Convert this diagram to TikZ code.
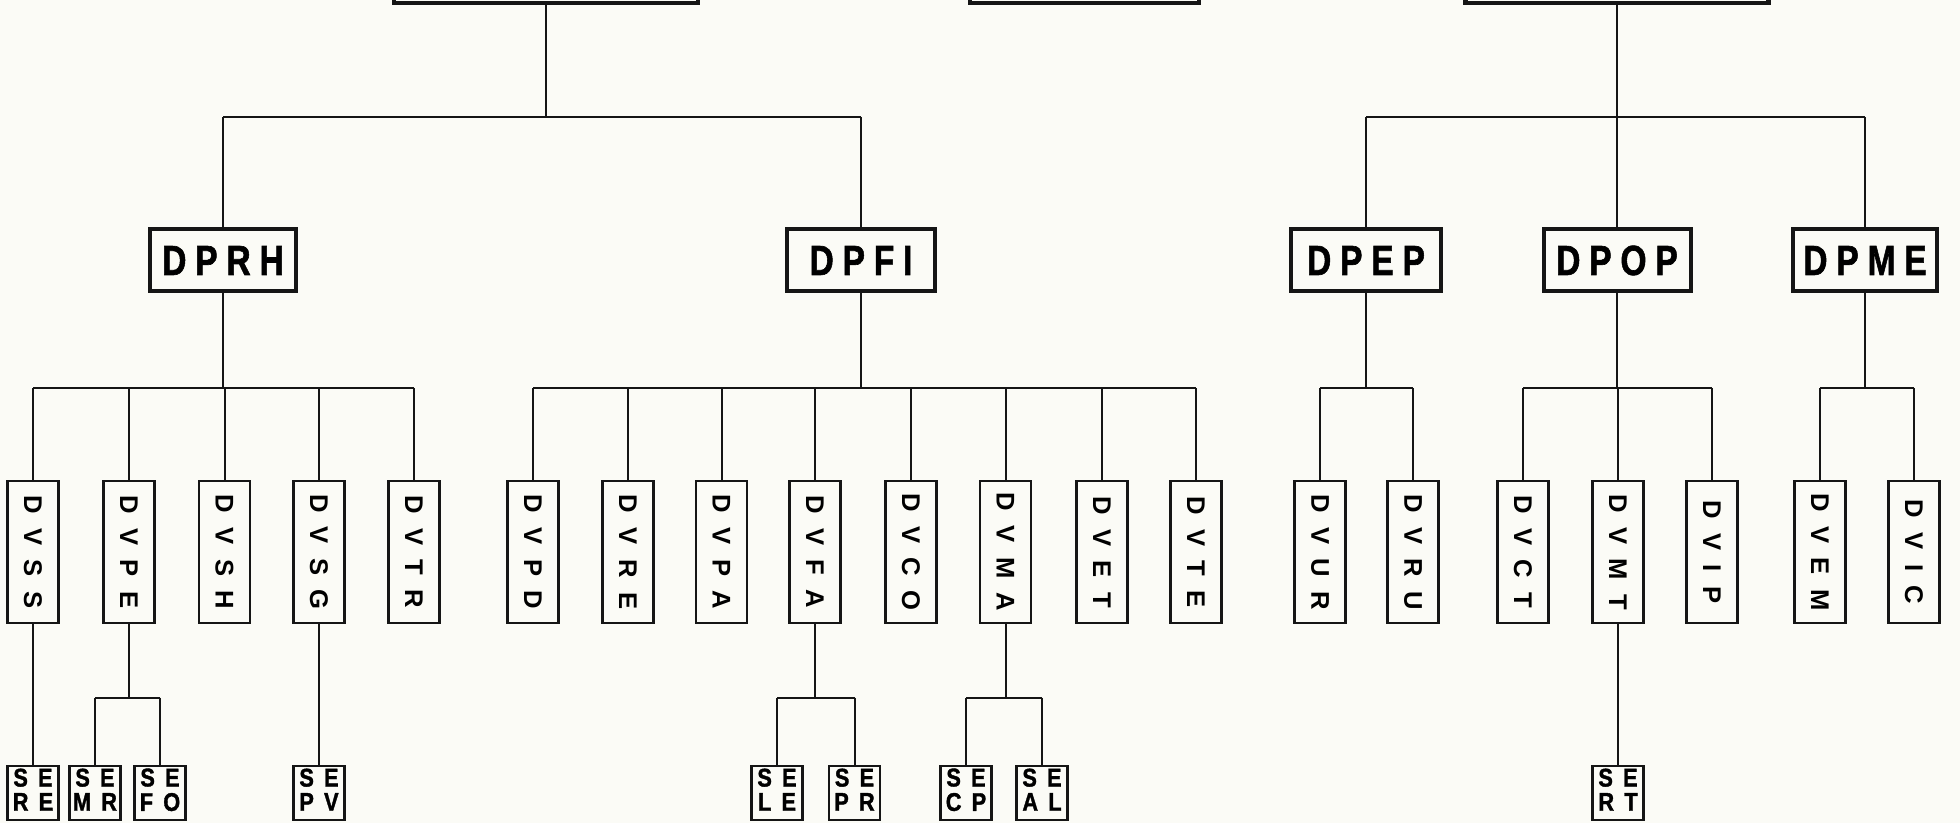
\documentclass[tikz,border=0pt]{standalone}
\usepackage{fontspec}
\setmainfont{Liberation Sans}
\newfontfamily\dvf{Liberation Sans Bold}
\newfontfamily\dpf[FakeBold=1.5]{Liberation Sans Bold}
\definecolor{paper}{HTML}{FBFBF6}
\definecolor{ink}{HTML}{151515}
\makeatletter
\newcommand\spl[2]{\def\spl@k{\kern#1\relax}\edef\spl@arg{#2}\expandafter\spl@first\spl@arg\@nil}
\def\spl@first#1{#1\spl@rest}
\def\spl@rest#1{\ifx#1\@nil\else\spl@k#1\expandafter\spl@rest\fi}
\makeatother
\newcommand\dvl[1]{\rotatebox{-90}{\dvf\fontsize{12.8}{13}\selectfont\spl{7.2pt}{#1}}}
\newcommand\dpl[1]{\scalebox{0.8}[1]{\dpf\fontsize{21}{22}\selectfont\spl{5.5pt}{#1}}}
\newcommand\sel[2]{\scalebox{0.85}[1]{\dpf\fontsize{12.8}{11}\selectfont\begin{tabular}{@{}c@{}}\spl{6pt}{#1}\\\spl{6pt}{#2}\end{tabular}}}
\tikzset{
  topbox/.style={draw=ink,line width=2.2pt,minimum height=40pt,inner sep=0pt},
  dpbox/.style={draw=ink,line width=2pt,minimum width=73pt,minimum height=31pt,inner sep=0pt},
  dvbox/.style={draw=ink,line width=1.2pt,minimum width=25.5pt,minimum height=71pt,inner sep=0pt},
  sebox/.style={draw=ink,line width=1.2pt,minimum width=25.5pt,minimum height=27pt,inner sep=0pt},
  conn/.style={draw=ink,line width=1pt},
}
\begin{document}
\begin{tikzpicture}[x=0.5pt,y=-0.5pt]
\fill[paper] (0,0) rectangle (1960,823);
\useasboundingbox (0,0) rectangle (1960,823);
\clip (0,0) rectangle (1960,823);
% top level (cut off)
\node[topbox,minimum width=152pt] (top1) at (546,-37) {};
\node[topbox,minimum width=114.5pt] (top2) at (1084.5,-37) {};
\node[topbox,minimum width=151.5pt] (top3) at (1617,-37) {};
% departments
\node[dpbox] (dprh) at (223,260.5) {\dpl{DPRH}};
\node[dpbox,minimum width=74pt] (dpfi) at (861,260.5) {\dpl{DPFI}};
\node[dpbox,minimum width=75pt] (dpep) at (1366,260.5) {\dpl{DPEP}};
\node[dpbox,minimum width=73.5pt] (dpop) at (1617,260.5) {\dpl{DPOP}};
\node[dpbox,minimum width=72pt] (dpme) at (1865,260.5) {\dpl{DPME}};
\coordinate (ty) at (0,117);
\draw[conn] (top1.south) -- (top1.south |- ty);
\draw[conn] (dprh.north |- ty) -- (dpfi.north |- ty);
\draw[conn] (dprh.north |- ty) -- (dprh.north);
\draw[conn] (dpfi.north |- ty) -- (dpfi.north);
\draw[conn] (top3.south) -- (dpop.north);
\draw[conn] (dpep.north |- ty) -- (dpme.north |- ty);
\draw[conn] (dpep.north |- ty) -- (dpep.north);
\draw[conn] (dpme.north |- ty) -- (dpme.north);
% divisions
\foreach \n/\x in {DVSS/33,DVPE/129,DVSH/224.5,DVSG/319,DVTR/414,
  DVPD/533,DVRE/628,DVPA/721.5,DVFA/815,DVCO/911,DVMA/1005.5,DVET/1102,DVTE/1196,
  DVUR/1320,DVRU/1413,DVCT/1523,DVMT/1618,DVIP/1712,DVEM/1820,DVIC/1914}
  \node[dvbox] (\n) at (\x,552) {\dvl{\n}};
\coordinate (by) at (0,388);
\foreach \p/\a/\b in {dprh/DVSS/DVTR,dpfi/DVPD/DVTE,dpep/DVUR/DVRU,dpop/DVCT/DVIP,dpme/DVEM/DVIC}{
  \draw[conn] (\p.south) -- (\p.south |- by);
  \draw[conn] (\a.north |- by) -- (\b.north |- by);
}
\foreach \n in {DVSS,DVPE,DVSH,DVSG,DVTR,DVPD,DVRE,DVPA,DVFA,DVCO,DVMA,DVET,DVTE,
  DVUR,DVRU,DVCT,DVMT,DVIP,DVEM,DVIC}
  \draw[conn] (\n.north |- by) -- (\n.north);
% sections
\foreach \n/\x/\a/\b in {sere/33/SE/RE,semr/95/SE/MR,sefo/160/SE/FO,sepv/319/SE/PV,
  sele/777/SE/LE,sepr/854.5/SE/PR,secp/966/SE/CP,seal/1042/SE/AL,sert/1618/SE/RT}
  \node[sebox] (\n) at (\x,793) {\sel{\a}{\b}};
\coordinate (sy) at (0,697.5);
\draw[conn] (DVSS.south) -- (sere.north);
\draw[conn] (DVSG.south) -- (sepv.north);
\draw[conn] (DVMT.south) -- (sert.north);
\foreach \p/\a/\b in {DVPE/semr/sefo,DVFA/sele/sepr,DVMA/secp/seal}{
  \draw[conn] (\p.south) -- (\p.south |- sy);
  \draw[conn] (\a.north |- sy) -- (\b.north |- sy);
  \draw[conn] (\a.north |- sy) -- (\a.north);
  \draw[conn] (\b.north |- sy) -- (\b.north);
}
\end{tikzpicture}
\end{document}
